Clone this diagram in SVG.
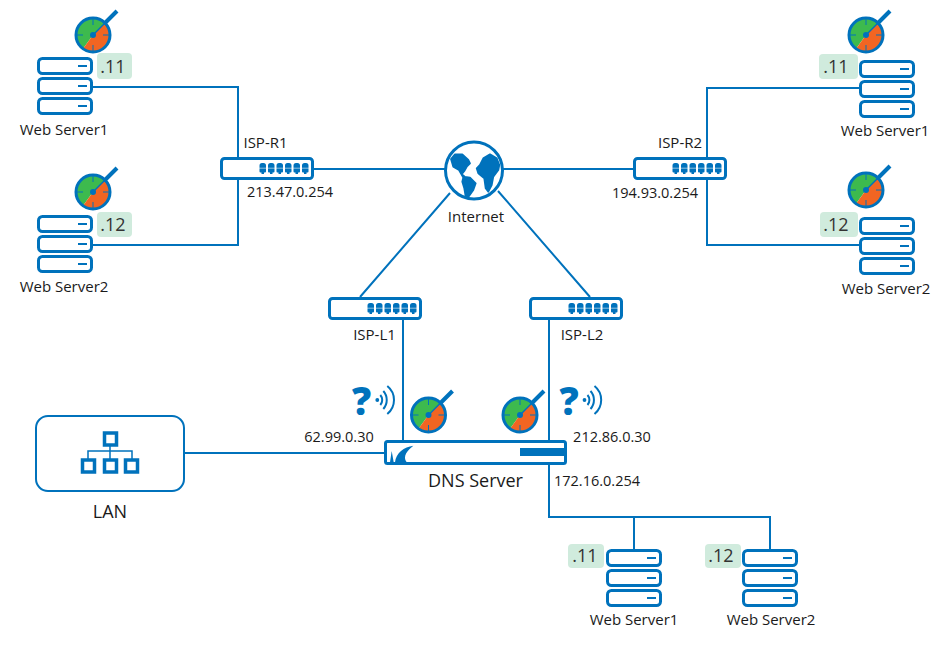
<svg xmlns="http://www.w3.org/2000/svg" xmlns:xlink="http://www.w3.org/1999/xlink" width="952" height="646" viewBox="0 0 952 646">
<style>
text{font-family:"Open Sans","Noto Sans",sans-serif;font-size:15px;fill:#1a1a1a;text-anchor:middle}
.ip{font-size:14.500px}
.big{font-size:18px}
.badge-t{font-size:18px;fill:#333}
.b{fill:#d0ebdd}
.line{fill:none;stroke:#0072bc;stroke-width:2}
.box{fill:#fff;stroke:#0072bc;stroke-width:3}
.blue{fill:#0072bc}
.q{font-family:"Open Sans",sans-serif;font-weight:800;font-size:38px;fill:#0072bc}
</style>
<defs>
<symbol id="srv" overflow="visible">
<g class="box"><rect x="1.500" y="1.500" width="53" height="15" rx="4"/><rect x="1.500" y="21.500" width="53" height="15" rx="4"/><rect x="1.500" y="41.500" width="53" height="15" rx="4"/></g>
<path d="M41 9h9M41 29h9M41 49h9" stroke="#0072bc" stroke-width="2"/>
</symbol>
<symbol id="gauge" overflow="visible">
<circle r="18" fill="#fff"/>
<path d="M0 0L12-12A17 17 0 1 0-10 13.800Z" fill="#3dba4e"/>
<path d="M0 0L12-12A17 17 0 0 1-10 13.800Z" fill="#f26522"/>
<circle r="17" fill="none" stroke="#0072bc" stroke-width="3"/>
<path d="M0-16V-10M0 16V10M-16 0H-10M16 0H10" stroke="#0072bc" stroke-width="1"/>
<path d="M0 0L13-13" stroke="#0072bc" stroke-width="1.500"/>
<path d="M11-11L24-24" stroke="#0072bc" stroke-width="4"/>
<circle r="3" fill="#0072bc"/>
</symbol>
<symbol id="sw" overflow="visible">
<rect x="1.500" y="1.500" width="91" height="20" rx="3" class="box"/>
<g class="blue"><path id="pt" d="M39.500 8.500q0-2.500 2.500-2.500h1.500q2.500 0 2.500 2.500v6q0 1-1 1h-1v1.500h-2.500v-1.500h-1q-1 0-1-1z"/><use xlink:href="#pt" x="8.500"/><use xlink:href="#pt" x="17"/><use xlink:href="#pt" x="25.500"/><use xlink:href="#pt" x="34"/><use xlink:href="#pt" x="42.500"/></g>
<path d="M38 11.200h51" stroke="#fff" stroke-width="0.700" opacity="0.800"/>
</symbol>
<symbol id="wave" overflow="visible">
<circle cx="0" cy="0" r="1.900" fill="#0072bc"/>
<path d="M3-5A7.500 7.500 0 0 1 3 5M6-9A13.500 13.500 0 0 1 6 9M10-14A18 18 0 0 1 10 14" fill="none" stroke="#0072bc" stroke-width="2"/>
</symbol>
</defs>
<g id="connectors" class="line">
<path d="M93 87H238V245H93"/>
<path d="M314 169H445M503 169H633"/>
<path d="M859 88H707V245H859"/>
<path d="M450 193L360 297M498 191L590 297"/>
<path d="M403 320V441M549 320V441"/>
<path d="M184 453H385"/>
<path d="M549 464V517H770V549M634 517V549"/>
</g>
<g id="ws1-tl"><use xlink:href="#gauge" x="93" y="35"/><use xlink:href="#srv" x="37" y="57"/><rect class="b" x="97" y="53" width="35" height="26" rx="4"/><text class="badge-t" x="113" y="73">.11</text><text x="64" y="135">Web Server1</text></g>
<g id="ws2-tl"><use xlink:href="#gauge" x="93" y="192"/><use xlink:href="#srv" x="37" y="215"/><rect class="b" x="97" y="212" width="35" height="25" rx="4"/><text class="badge-t" x="113" y="231">.12</text><text x="64" y="292">Web Server2</text></g>
<g id="ws1-tr"><use xlink:href="#gauge" x="866" y="35"/><use xlink:href="#srv" x="859" y="60"/><rect class="b" x="819" y="54" width="39" height="25" rx="4"/><text class="badge-t" x="836" y="73">.11</text><text x="885" y="136">Web Server1</text></g>
<g id="ws2-tr"><use xlink:href="#gauge" x="866" y="190"/><use xlink:href="#srv" x="859" y="217"/><rect class="b" x="820" y="212" width="38" height="25" rx="4"/><text class="badge-t" x="836" y="231">.12</text><text x="886" y="294">Web Server2</text></g>
<g id="isp-r1"><use xlink:href="#sw" x="220" y="157"/><text x="265.500" y="148">ISP-R1</text><text class="ip" x="290" y="197">213.47.0.254</text></g>
<g id="isp-r2"><use xlink:href="#sw" x="633" y="157"/><text x="680" y="148">ISP-R2</text><text class="ip" x="655" y="198">194.93.0.254</text></g>
<g id="internet"><circle cx="474" cy="170.500" r="28.500" fill="#fff" stroke="#0072bc" stroke-width="3"/>
<path class="blue" stroke="#0072bc" stroke-width="1.800" stroke-linejoin="round" d="M451 159L455 154.300L462.300 154.300L468.300 160L470 163.300L466.700 166.700L464.300 171L461.700 174.300L465 177L470 177.700L475.700 183.300L473.300 190L468.300 197L465.700 196.700L464.300 188.300L462.300 181.700L463.300 177.500L459 170L453.300 166.700ZM480 165L483.300 158.300L490 154.300L496.700 158.300L499.300 165L498.300 170L493.300 176.700L491.700 185L488.300 191.700L485.700 188.300L484.300 178.300L478.300 173.300L476.700 168.300Z"/>
<text x="476" y="222">Internet</text></g>
<g id="isp-l1"><use xlink:href="#sw" x="328" y="297"/><text x="374.500" y="340">ISP-L1</text></g>
<g id="isp-l2"><use xlink:href="#sw" x="529" y="297"/><text x="582" y="340">ISP-L2</text></g>
<g id="dns"><use xlink:href="#gauge" x="428.500" y="415"/><use xlink:href="#gauge" x="520" y="415"/>
<text class="q" x="361.500" y="415">?</text><use xlink:href="#wave" x="377.300" y="400"/>
<text class="q" x="569" y="415">?</text><use xlink:href="#wave" x="584.500" y="400"/>
<rect x="385.500" y="441.500" width="180" height="22" rx="2" class="box"/>
<rect class="blue" x="520" y="448" width="46" height="8"/>
<path class="blue" d="M391.700 451L393.700 462.300H390ZM413.300 445.700C404 447 396 453 395 462.300H406.700C402 456 408 450 413.300 445.700Z"/>
<text class="ip" x="339" y="442">62.99.0.30</text><text class="ip" x="612" y="442">212.86.0.30</text><text class="ip" x="597" y="486">172.16.0.254</text>
<text class="big" x="475.500" y="487">DNS Server</text></g>
<g id="lan"><rect x="36" y="416" width="148" height="75" rx="12" fill="#fff" stroke="#0072bc" stroke-width="2"/>
<path d="M110 441V451M88 460V451H132V460M110 451V460" class="line" style="stroke-width:1.500"/>
<g fill="#fff" stroke="#0072bc" stroke-width="3.500"><rect x="104.500" y="433" width="12" height="12"/><rect x="82.500" y="460" width="12" height="12"/><rect x="104.500" y="460" width="12" height="12"/><rect x="125.500" y="460" width="12" height="12"/></g>
<text class="big" x="110" y="518">LAN</text></g>
<g id="ws1-b"><use xlink:href="#srv" x="606" y="549"/><rect class="b" x="568" y="544" width="36" height="24" rx="4"/><text class="badge-t" x="585" y="562">.11</text><text x="634" y="625">Web Server1</text></g>
<g id="ws2-b"><use xlink:href="#srv" x="742" y="549"/><rect class="b" x="705" y="544" width="36" height="24" rx="4"/><text class="badge-t" x="721" y="562">.12</text><text x="771" y="625">Web Server2</text></g>
</svg>
